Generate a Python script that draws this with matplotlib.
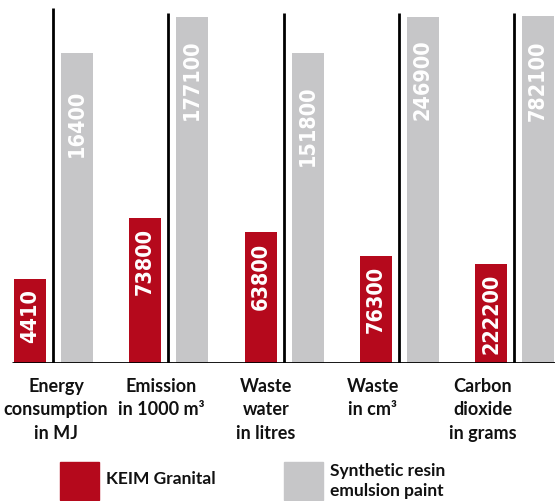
import matplotlib
matplotlib.use("Agg")
import matplotlib.pyplot as plt
from matplotlib import font_manager as fm
from matplotlib.patches import Rectangle

categories = ["Energy\nconsumption\nin MJ", "Emission\nin 1000 m³", "Waste\nwater\nin litres",
              "Waste\nin cm³", "Carbon\ndioxide\nin grams"]
keim_values = [4410, 73800, 63800, 76300, 222200]
resin_values = [16400, 177100, 151800, 246900, 782100]
# each group is scaled on its own: height of the resin bar as share of full height
resin_share = [0.873, 0.975, 0.873, 0.975, 0.977]
series_names = ["KEIM Granital", "Synthetic resin\nemulsion paint"]

RED = "#B5091C"
GRAY = "#C6C6C8"

names = {f.name for f in fm.fontManager.ttflist}
lab_font = "Lato" if "Lato" in names else "DejaVu Sans"
if "Liberation Sans Narrow" in names:
    num_kw = dict(family="Liberation Sans Narrow", fontsize=19)
else:
    num_kw = dict(family="DejaVu Sans", fontstretch="condensed", fontsize=15.5)

W, H = 555, 501
fig = plt.figure(figsize=(W / 100, H / 100), dpi=100)
base_px = 362.5
top_px = 8
ax = fig.add_axes([0, (H - base_px) / H, 1, (base_px - top_px) / H])
unit = 115.25
ax.set_xlim(-30 / unit, (W - 30) / unit)
ax.set_ylim(0, 1)
ax.axis("off")

bw = 32 / unit
goff = 47 / unit
for i in range(len(categories)):
    g = resin_share[i]
    r = g * keim_values[i] / resin_values[i]
    ax.bar(i, r, width=bw, color=RED, zorder=2)
    ax.bar(i + goff, g, width=bw, color=GRAY, zorder=2)
    sep_top = 1.0 if i == 0 else 0.986
    ax.plot([i + 23 / unit] * 2, [0, sep_top], color="black", lw=2.0, solid_capstyle="butt", zorder=3)

ax.plot([-18 / unit, (W - 30) / unit], [0, 0], color="black", lw=2.0, solid_capstyle="butt", zorder=4)

red_off = [10, 10, 10, 10, 10]
gray_off = [37, 23, 32, 23, 24]
for i in range(len(categories)):
    g = resin_share[i]
    r = g * keim_values[i] / resin_values[i]
    ax.annotate(str(keim_values[i]), (i, r), xytext=(0, -red_off[i] * 0.72), textcoords="offset points",
                rotation=90, ha="center", va="top", color="white", fontweight="bold", zorder=5, **num_kw)
    ax.annotate(str(resin_values[i]), (i + goff, g), xytext=(0, -gray_off[i] * 0.72), textcoords="offset points",
                rotation=90, ha="center", va="top", color="white", fontweight="bold", zorder=5, **num_kw)

label_x = [56, 161, 266, 373, 483]
for i, c in enumerate(categories):
    fig.text(label_x[i] / W, 1 - 378 / H, c, ha="center", va="top", fontsize=13,
             fontweight="bold", family=lab_font, linespacing=1.45, color="#111111")

fig.patches.append(Rectangle((60 / W, 1 - 500 / H), 39 / W, 38 / H, transform=fig.transFigure,
                             color=RED, figure=fig))
fig.patches.append(Rectangle((284 / W, 1 - 500 / H), 39 / W, 38 / H, transform=fig.transFigure,
                             color=GRAY, figure=fig))
fig.text(106 / W, 1 - 479 / H, series_names[0], ha="left", va="center", fontsize=12.5,
         fontweight="bold", family=lab_font, color="#111111")
fig.text(330 / W, 1 - 481 / H, series_names[1], ha="left", va="center", fontsize=12.5,
         fontweight="bold", family=lab_font, linespacing=1.3, color="#111111")

fig.savefig("out.png", dpi=100)
